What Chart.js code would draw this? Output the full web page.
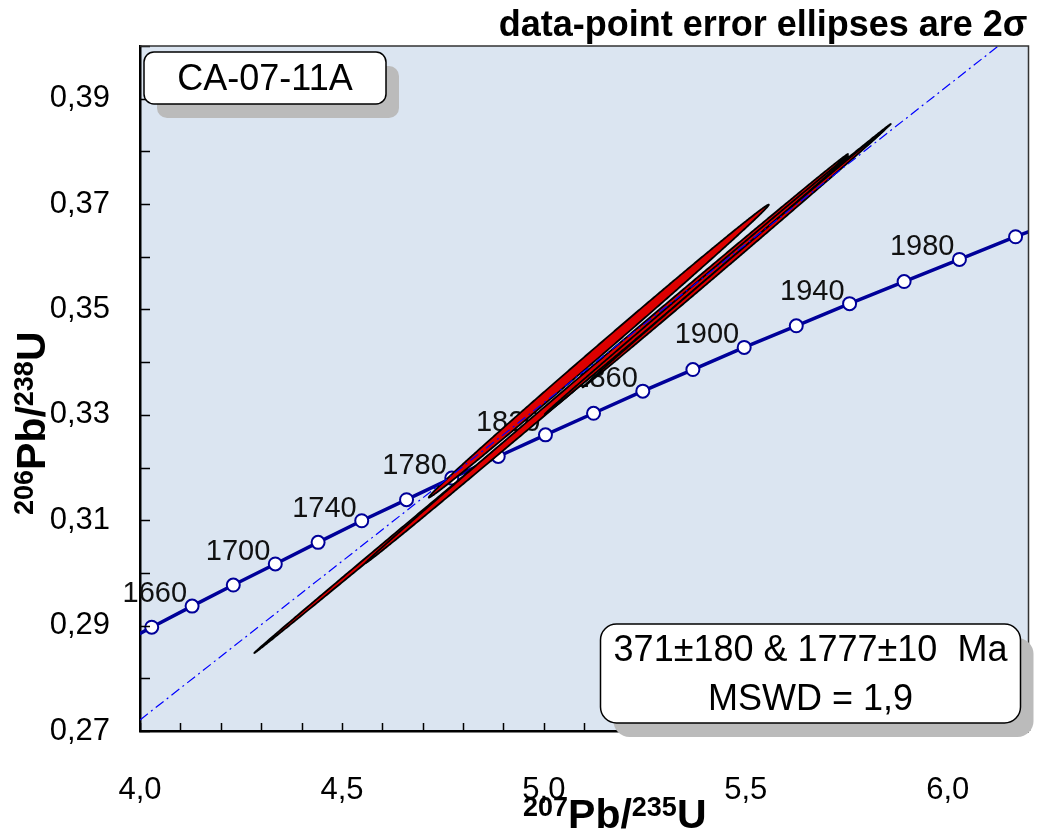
<!DOCTYPE html>
<html>
<head>
<meta charset="utf-8">
<script src="https://cdn.jsdelivr.net/npm/chart.js@4.4.0/dist/chart.umd.min.js"></script>
<style>
  html, body { margin: 0; padding: 0; background: #fff; }
</style>
</head>
<body>
<canvas id="concordia" width="1037" height="832"></canvas>
<script>
const FONT = "'Liberation Sans', Arial, Helvetica, sans-serif";

// concordia curve, one point every 20 Ma
const ages = [1620, 1640, 1660, 1680, 1700, 1720, 1740, 1760, 1780, 1800, 1820,
  1840, 1860, 1880, 1900, 1920, 1940, 1960, 1980, 2000, 2020];
const concordiaX = [3.931, 4.029, 4.129, 4.231, 4.335, 4.441, 4.549, 4.660, 4.772, 4.887, 5.004,
  5.123, 5.245, 5.369, 5.496, 5.625, 5.757, 5.892, 6.029, 6.168, 6.311];
const concordiaY = [0.2857, 0.2897, 0.2937, 0.2977, 0.3017, 0.3058, 0.3099, 0.3139, 0.3180, 0.3221, 0.3262,
  0.3303, 0.3345, 0.3386, 0.3428, 0.3469, 0.3511, 0.3553, 0.3595, 0.3638, 0.3680];
const labelAges = [1660, 1700, 1740, 1780, 1820, 1860, 1900, 1940, 1980];

// discordia (regression line)
const discordiaX = [4.0, 6.2];
const discordiaY = [0.2721, 0.4045];

// 2 sigma error ellipses
const ellipseX = [5.071, 5.156, 5.378, 5.469, 5.136];
const ellipseY = [0.3350, 0.3407, 0.3546, 0.3596, 0.3421];
const ellipseErrX = [0.788, 0.597, 0.376, 0.373, 0.421];
const ellipseErrY = [0.0502, 0.0388, 0.0245, 0.0244, 0.0278];
const ellipseRho = [0.99992, 0.99975, 0.9998, 0.9998, 0.9990];

const sampleName = 'CA-07-11A';
const resultLines = ['371\u00b1180 & 1777\u00b110  Ma', 'MSWD = 1,9'];
const noteText = 'data-point error ellipses are 2\u03c3';

function roundBox(ctx, x, y, w, h, r) {
  ctx.beginPath();
  ctx.moveTo(x + r, y);
  ctx.arcTo(x + w, y, x + w, y + h, r);
  ctx.arcTo(x + w, y + h, x, y + h, r);
  ctx.arcTo(x, y + h, x, y, r);
  ctx.arcTo(x, y, x + w, y, r);
  ctx.closePath();
}

function drawBox(ctx, x, y, w, h, r, lines, size) {
  ctx.fillStyle = '#bbbbbb';
  roundBox(ctx, x + 13, y + 14, w, h, r);
  ctx.fill();
  ctx.fillStyle = '#fff';
  ctx.strokeStyle = '#000';
  ctx.lineWidth = 1.5;
  roundBox(ctx, x, y, w, h, r);
  ctx.fill();
  ctx.stroke();
  ctx.fillStyle = '#000';
  ctx.font = size + 'px ' + FONT;
  ctx.textAlign = 'center';
  ctx.textBaseline = 'middle';
  const step = h / lines.length;
  lines.forEach((t, i) => ctx.fillText(t, x + w / 2, y + step * (i + 0.5) + 2));
}

// writes "sup main sup main" starting at (0,0) baseline
function drawRatio(ctx, parts) {
  let x = 0;
  parts.forEach(p => {
    ctx.font = 'bold ' + p.size + 'px ' + FONT;
    ctx.fillText(p.text, x, p.sup ? -12 : 0);
    x += ctx.measureText(p.text).width;
  });
}

const concordiaPlugin = {
  id: 'concordia',
  beforeDraw(chart) {
    const { ctx, chartArea: a } = chart;
    ctx.save();
    ctx.fillStyle = '#dbe5f1';
    ctx.fillRect(a.left, a.top, a.right - a.left, a.bottom - a.top);
    ctx.restore();
  },
  afterDatasetDraw(chart, args) {
    if (args.index !== 1) return;
    const { ctx } = chart;
    const xs = chart.scales.x, ys = chart.scales.y;
    ctx.save();
    // age labels
    ctx.fillStyle = '#111';
    ctx.font = '29px ' + FONT;
    ctx.textAlign = 'right';
    ctx.textBaseline = 'alphabetic';
    labelAges.forEach(age => {
      const i = ages.indexOf(age);
      const px = xs.getPixelForValue(concordiaX[i]);
      const py = ys.getPixelForValue(concordiaY[i]);
      ctx.fillText(String(age), px - 5, py - 4);
    });
    // error ellipses
    ctx.fillStyle = '#dd0000';
    ctx.strokeStyle = '#000';
    ctx.lineWidth = 1.8;
    ctx.lineJoin = 'round';
    ellipseX.forEach((cx, k) => {
      const ex = ellipseErrX[k], ey = ellipseErrY[k], rho = ellipseRho[k];
      const q = Math.sqrt(1 - rho * rho);
      ctx.beginPath();
      for (let d = 0; d <= 720; d++) {
        const t = d * Math.PI / 360;
        const px = xs.getPixelForValue(cx + ex * Math.cos(t));
        const py = ys.getPixelForValue(ellipseY[k] + ey * (rho * Math.cos(t) + q * Math.sin(t)));
        if (d === 0) ctx.moveTo(px, py); else ctx.lineTo(px, py);
      }
      ctx.closePath();
      ctx.fill();
      ctx.stroke();
    });
    ctx.restore();
  },
  afterDraw(chart) {
    const { ctx, chartArea: a } = chart;
    const xs = chart.scales.x, ys = chart.scales.y;
    ctx.save();
    // inward tick marks
    ctx.strokeStyle = '#000';
    ctx.lineWidth = 1.5;
    ctx.beginPath();
    xs.ticks.forEach(t => {
      const px = Math.round(xs.getPixelForValue(t.value)) + 0.5;
      ctx.moveTo(px, a.bottom);
      ctx.lineTo(px, a.bottom - 8);
    });
    ys.ticks.forEach(t => {
      const py = Math.round(ys.getPixelForValue(t.value)) + 0.5;
      ctx.moveTo(a.left, py);
      ctx.lineTo(a.left + 10, py);
    });
    ctx.stroke();
    // top and right frame
    ctx.strokeStyle = '#333';
    ctx.lineWidth = 1.5;
    ctx.beginPath();
    ctx.moveTo(a.left, a.top);
    ctx.lineTo(a.right, a.top);
    ctx.lineTo(a.right, a.bottom);
    ctx.stroke();

    drawBox(ctx, a.left + 4, a.top + 6, 242, 52, 10, [sampleName], 36);
    drawBox(ctx, a.right - 428, a.bottom - 107, 420, 99, 16, resultLines, 36);

    // note above the plot
    ctx.fillStyle = '#000';
    ctx.font = 'bold 36px ' + FONT;
    ctx.textAlign = 'right';
    ctx.textBaseline = 'alphabetic';
    ctx.fillText(noteText, a.right - 1, 36);

    // axis titles
    ctx.textAlign = 'left';
    ctx.save();
    ctx.translate(523, 828);
    drawRatio(ctx, [
      { text: '207', size: 27, sup: true }, { text: 'Pb/', size: 41 },
      { text: '235', size: 27, sup: true }, { text: 'U', size: 41 }
    ]);
    ctx.restore();
    ctx.save();
    ctx.translate(45, 515);
    ctx.rotate(-Math.PI / 2);
    drawRatio(ctx, [
      { text: '206', size: 27, sup: true }, { text: 'Pb/', size: 41 },
      { text: '238', size: 27, sup: true }, { text: 'U', size: 41 }
    ]);
    ctx.restore();
    ctx.restore();
  }
};

// outer tick marks are invisible; their length only spaces the labels
const hiddenTicks = len => ({
  display: true, drawOnChartArea: false, drawTicks: true,
  tickLength: len, color: 'rgba(0,0,0,0)'
});

new Chart(document.getElementById('concordia'), {
  type: 'scatter',
  data: {
    datasets: [
      {
        label: 'Discordia',
        type: 'line',
        data: discordiaX.map((x, i) => ({ x, y: discordiaY[i] })),
        borderColor: '#0000ff',
        borderWidth: 1.2,
        borderDash: [10, 4, 2, 4],
        pointRadius: 0,
        fill: false
      },
      {
        label: 'Concordia',
        type: 'line',
        data: concordiaX.map((x, i) => ({ x, y: concordiaY[i] })),
        borderColor: '#000099',
        borderWidth: 3.5,
        pointRadius: 6.5,
        pointBackgroundColor: '#fff',
        pointBorderColor: '#000099',
        pointBorderWidth: 2,
        tension: 0,
        fill: false
      }
    ]
  },
  options: {
    responsive: false,
    animation: false,
    layout: { padding: { top: 46, right: 6, left: 0, bottom: 0 } },
    plugins: { legend: { display: false }, tooltip: { enabled: false } },
    scales: {
      x: {
        type: 'linear',
        min: 4.0,
        max: 6.2,
        grid: hiddenTicks(41),
        border: { display: true, color: '#000', width: 2.5 },
        ticks: {
          stepSize: 0.1,
          autoSkip: false,
          maxRotation: 0,
          padding: 0,
          color: '#000',
          font: { family: FONT, size: 31 },
          callback: v => Math.round(v * 10) % 5 === 0 ? v.toFixed(1).replace('.', ',') : ''
        },
        afterFit: s => { s.height = 101; }
      },
      y: {
        type: 'linear',
        min: 0.27,
        max: 0.40,
        grid: hiddenTicks(30),
        border: { display: true, color: '#000', width: 2.5 },
        ticks: {
          stepSize: 0.01,
          autoSkip: false,
          padding: 0,
          color: '#000',
          font: { family: FONT, size: 31 },
          callback: v => Math.round(v * 100) % 2 === 1 ? v.toFixed(2).replace('.', ',') : ''
        },
        afterFit: s => { s.width = 140; }
      }
    }
  },
  plugins: [concordiaPlugin]
});
</script>
</body>
</html>
